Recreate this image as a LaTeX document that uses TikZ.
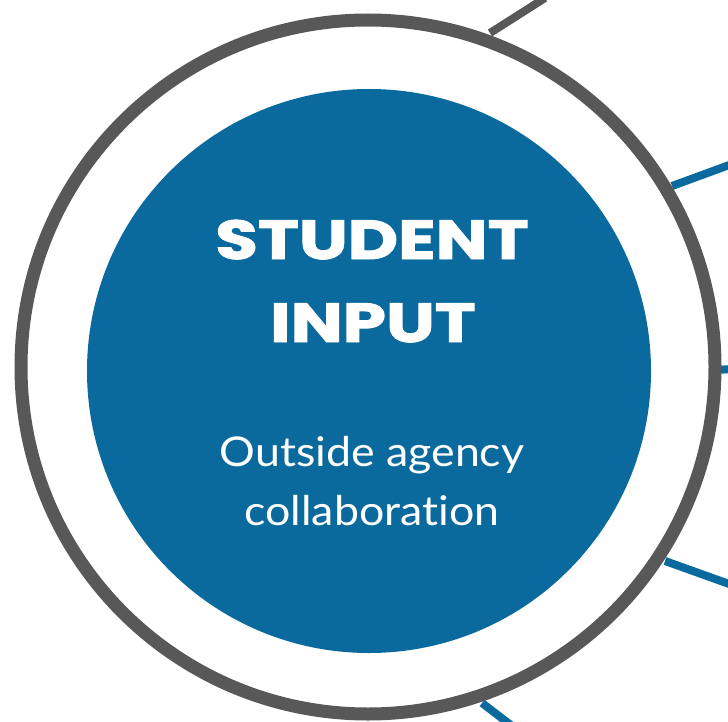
\documentclass[tikz,border=0pt]{standalone}
\usepackage{fontspec}
\newfontfamily\titlefont{Poppins}[BoldFeatures={FakeBold=1.6}]
\newfontfamily\subfont{Lato}[Ligatures=NoCommon]
\definecolor{hubblue}{RGB}{10,106,158}
\definecolor{ringgrey}{RGB}{88,88,88}
\begin{document}
\begin{tikzpicture}[x=1pt,y=-1pt,
  spoke/.style={line width=8pt, hubblue},
  greyspoke/.style={line width=8pt, ringgrey},
  titletext/.style={text=white, inner sep=0pt, xscale=1.26, font=\titlefont\bfseries\fontsize{55}{83}\selectfont},
  subtext/.style={text=white, inner sep=0pt, xscale=1.09, font=\subfont\fontsize{41}{59}\selectfont}]
\useasboundingbox (0,0) rectangle (728,722);
\clip (0,0) rectangle (728,722);
% spokes
\coordinate (s1) at (490,33);  \coordinate (e1) at (545,-2);
\coordinate (s2) at (672,186); \coordinate (e2) at (732,164);
\coordinate (s3) at (716,370); \coordinate (e3) at (732,369);
\coordinate (s4) at (665,561); \coordinate (e4) at (732,585);
\coordinate (s5) at (482,703); \coordinate (e5) at (512,726);
\draw[greyspoke] (s1) -- (e1);
\draw[spoke] (s2) -- (e2);
\draw[spoke] (s3) -- (e3);
\draw[spoke] (s4) -- (e4);
\draw[spoke] (s5) -- (e5);
% ring and hub
\node[circle, draw=ringgrey, fill=white, line width=13pt, minimum size=694pt, inner sep=0pt] (ring) at (368,367) {};
\node[circle, fill=hubblue, minimum size=564pt, inner sep=0pt] (hub) at (369,371) {};
\node[titletext, anchor=base] (title1) at (372,259) {STUDENT};
\node[titletext, anchor=base] (title2) at (373,342) {INPUT};
\node[subtext, anchor=base] (sub1) at (372,466) {Outside agency};
\node[subtext, anchor=base] (sub2) at (372,525) {collaboration};
\end{tikzpicture}
\end{document}
